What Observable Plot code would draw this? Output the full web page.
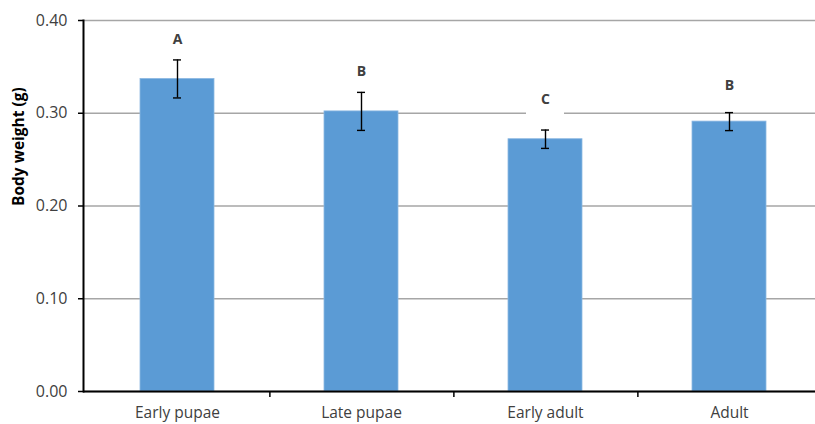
<!DOCTYPE html>
<html>
<head>
<meta charset="utf-8">
<script src="https://cdn.jsdelivr.net/npm/d3@7"></script>
<script src="https://cdn.jsdelivr.net/npm/@observablehq/plot@0.6"></script>
<style>
  html, body { margin: 0; padding: 0; background: #fff; }
  #chart svg { display: block; }
</style>
</head>
<body>
<div id="chart"></div>
<script>
const stages = ["Early pupae", "Late pupae", "Early adult", "Adult"];
const means = [0.337, 0.302, 0.272, 0.291];
const errors = [0.0205, 0.0205, 0.0099, 0.0097];
const letters = ["A", "B", "C", "B"];
const letterY = [0.380, 0.3455, 0.315, 0.330];
const yTicks = [0, 0.1, 0.2, 0.3, 0.4];
const yLabel = "Body weight (g)";

const data = stages.map((s, i) => ({
  stage: s, mean: means[i], lo: means[i] - errors[i], hi: means[i] + errors[i],
  letter: letters[i], ly: letterY[i]
}));

const W = 815, H = 424;
const xRange = [83, 822];
const padIn = 0.6, padOut = 0.3;
const step = (xRange[1] - xRange[0]) / (stages.length - padIn + 2 * padOut);
const font = "'Open Sans', Lato, sans-serif";
const textColor = "#404040";

const chart = Plot.plot({
  width: W,
  height: H,
  marginLeft: 83,
  marginRight: 0,
  marginTop: 20,
  marginBottom: 33,
  style: { fontFamily: font, background: "white" },
  x: { domain: stages, range: xRange, paddingInner: padIn, paddingOuter: padOut, label: null },
  y: { domain: [0, 0.4], label: null },
  marks: [
    Plot.gridY(yTicks, { stroke: "#a6a6a6", strokeOpacity: 1, strokeWidth: 1.3 }),
    Plot.barY(data, { x: "stage", y1: d => d.ly - 0.017, y2: d => d.ly + 0.017, fill: "white", insetLeft: 18, insetRight: 18 }),
    Plot.barY(data, { x: "stage", y: "mean", fill: "#5b9bd5", stroke: "#8db8e2", strokeWidth: 0.8 }),
    Plot.ruleX(data, { x: "stage", y1: "lo", y2: "hi", stroke: "#000", strokeWidth: 1.4 }),
    Plot.tickY(data, { x: "stage", y: "hi", stroke: "#000", strokeWidth: 1.4, insetLeft: 33, insetRight: 33 }),
    Plot.tickY(data, { x: "stage", y: "lo", stroke: "#000", strokeWidth: 1.4, insetLeft: 33, insetRight: 33 }),
    Plot.text(data, { x: "stage", y: "ly", text: "letter", fontSize: 14, fontWeight: "bold", fill: textColor }),
    Plot.axisY({ ticks: yTicks, tickFormat: d3.format(".2f"), tickSize: 5, tickPadding: 11, fontSize: 16, color: textColor, stroke: "#000", strokeWidth: 1.5, label: null }),
    Plot.axisX({ tickSize: 0, tickPadding: 15, fontSize: 15.5, color: textColor, label: null }),
    Plot.axisX({ tickSize: 6, tickFormat: () => "", dx: step / 2, stroke: "#000", strokeWidth: 1.5, label: null }),
    Plot.ruleY([0], { stroke: "#000", strokeWidth: 2 }),
    Plot.frame({ anchor: "left", stroke: "#000", strokeWidth: 2 }),
    Plot.text([yLabel], { frameAnchor: "left", rotate: -90, dx: -64, fontSize: 15.5, fontWeight: "bold", fill: "#000" })
  ]
});
document.getElementById("chart").appendChild(chart);
</script>
</body>
</html>
